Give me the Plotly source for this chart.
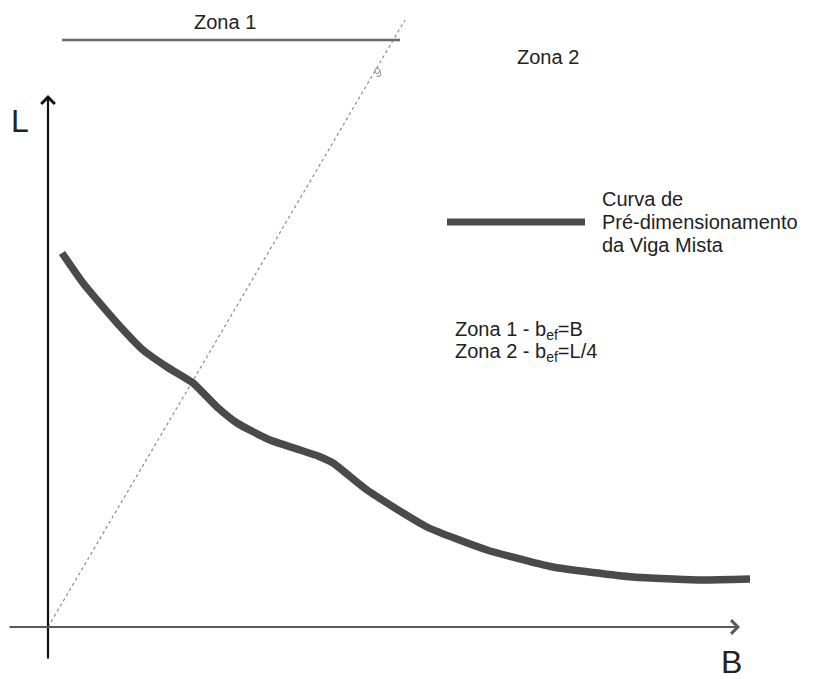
import plotly.graph_objects as go

# Curva de pré-dimensionamento (B, L), origem no cruzamento dos eixos
curve_b = [14, 35, 69, 95, 119, 145, 169, 189, 222, 252, 270, 285, 319, 379, 439, 505, 585, 652, 702]
curve_l = [374, 344, 304, 277, 260, 244, 220, 204, 187, 177, 171, 164, 137, 100, 77, 60, 50, 47, 48]

# Reta B = L/4 (limite entre zonas)
limit_b = [0, 357]
limit_l = [0, 607]

# Faixa da Zona 1 no topo
zona1_b = [14, 352]
zona1_l = [587, 587]

# Amostra da legenda
legend_b = [399, 537]
legend_l = [405, 405]

legend_lines = ["Curva de", "Pré-dimensionamento", "da Viga Mista"]
zone_lines = ["Zona 1 - b<sub>ef</sub>=B", "Zona 2 - b<sub>ef</sub>=L/4"]

FONT = "Liberation Sans, Arial, sans-serif"
INK = "#222222"
CURVE = "#4a4a4a"

fig = go.Figure()

# linha pontilhada do limite
fig.add_trace(go.Scatter(
    x=limit_b, y=limit_l, mode="lines",
    line=dict(color="#8a8a8a", width=1.2, dash="dot"),
    hoverinfo="skip"
))

# faixa Zona 1
fig.add_trace(go.Scatter(
    x=zona1_b, y=zona1_l, mode="lines",
    line=dict(color="#6a6a6a", width=2.5),
    hoverinfo="skip"
))

# curva principal
fig.add_trace(go.Scatter(
    x=curve_b, y=curve_l, mode="lines",
    line=dict(color=CURVE, width=7.5, shape="spline", smoothing=0.5),
    hoverinfo="skip"
))

# amostra da legenda
fig.add_trace(go.Scatter(
    x=legend_b, y=legend_l, mode="lines",
    line=dict(color=CURVE, width=7),
    hoverinfo="skip"
))

annotations = []

# eixo L (vertical, preto) e eixo B (horizontal, cinza)
annotations.append(dict(
    x=0, y=532, ax=0, ay=-33, xref="x", yref="y", axref="x", ayref="y",
    showarrow=True, arrowhead=4, arrowsize=1.2, arrowwidth=2.2,
    arrowcolor="#111111", text=""
))
annotations.append(dict(
    x=692, y=0, ax=-40, ay=0, xref="x", yref="y", axref="x", ayref="y",
    showarrow=True, arrowhead=4, arrowsize=1.2, arrowwidth=2.2,
    arrowcolor="#5a5a5a", text=""
))

annotations.append(dict(x=-28, y=506, text="L", showarrow=False,
                        font=dict(family=FONT, size=32, color=INK)))
annotations.append(dict(x=683, y=-35, text="B", showarrow=False,
                        font=dict(family=FONT, size=32, color=INK)))

annotations.append(dict(x=177, y=605, text="Zona 1", showarrow=False,
                        font=dict(family=FONT, size=20, color=INK)))
annotations.append(dict(x=500, y=570, text="Zona 2", showarrow=False,
                        font=dict(family=FONT, size=20, color=INK)))
annotations.append(dict(x=329, y=555, text="9", showarrow=False, textangle=-20,
                        font=dict(family=FONT, size=13, color="#9a9a9a")))

for i, line in enumerate(legend_lines):
    annotations.append(dict(x=552, y=428 - 23 * i, text=line, showarrow=False,
                            xanchor="left",
                            font=dict(family=FONT, size=20, color=INK)))

for i, line in enumerate(zone_lines):
    annotations.append(dict(x=405, y=297 - 22 * i, text=line, showarrow=False,
                            xanchor="left",
                            font=dict(family=FONT, size=20, color=INK)))

# a página tem 8px de margem no body: a figura fica deslocada
fig.update_layout(
    width=807, height=671,
    margin=dict(l=0, r=0, t=0, b=0),
    paper_bgcolor="white", plot_bgcolor="white",
    showlegend=False,
    annotations=annotations,
    xaxis=dict(range=[-40, 767], visible=False, fixedrange=True),
    yaxis=dict(range=[-52, 619], visible=False, fixedrange=True),
)

fig.write_html("out.html")
